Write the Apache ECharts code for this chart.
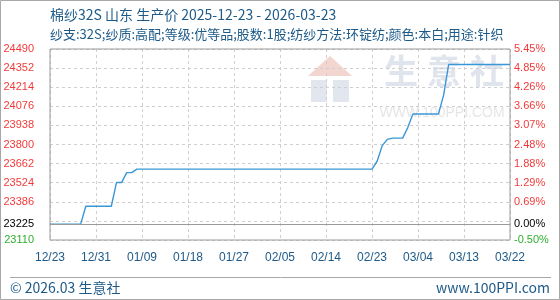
<!DOCTYPE html>
<html>
<head>
<meta charset="utf-8">
<script src="https://cdn.jsdelivr.net/npm/echarts@6/dist/echarts.min.js"></script>
<style>html,body{margin:0;padding:0;background:#fff}#c{width:560px;height:300px}</style>
</head>
<body>
<div id="c"></div>
<script>
const titleText = '棉纱32S 山东 生产价 2025-12-23 - 2026-03-23';
const subText = '纱支:32S;纱质:高配;等级:优等品;股数:1股;纺纱方法:环锭纺;颜色:本白;用途:针织';
const dates = [
 '12/23','12/24','12/25','12/26','12/27','12/28','12/29','12/30','12/31',
 '01/01','01/02','01/03','01/04','01/05','01/06','01/07','01/08','01/09','01/10','01/11','01/12','01/13','01/14','01/15','01/16','01/17','01/18','01/19','01/20','01/21','01/22','01/23','01/24','01/25','01/26','01/27','01/28','01/29','01/30','01/31',
 '02/01','02/02','02/03','02/04','02/05','02/06','02/07','02/08','02/09','02/10','02/11','02/12','02/13','02/14','02/15','02/16','02/17','02/18','02/19','02/20','02/21','02/22','02/23','02/24','02/25','02/26','02/27','02/28',
 '03/01','03/02','03/03','03/04','03/05','03/06','03/07','03/08','03/09','03/10','03/11','03/12','03/13','03/14','03/15','03/16','03/17','03/18','03/19','03/20','03/21','03/22','03/23'
];
const prices = [
 23225,23225,23225,23225,23225,23225,23225,
 23354,23354,23354,23354,23354,23354,
 23525,23525,
 23597,23597,
 23622,23622,23622,23622,23622,23622,23622,23622,23622,23622,
 23622,23622,23622,23622,23622,23622,23622,23622,23622,23622,
 23622,23622,23622,23622,23622,23622,23622,23622,23622,23622,
 23622,23622,23622,23622,23622,23622,23622,23622,23622,23622,
 23622,23622,23622,23622,23622,23622,23622,
 23679,23792,23837,
 23846,23846,23846,
 23922,
 24020,24020,24020,24020,24020,24020,
 24155,
 24378,24378,24378,24378,24378,24378,24378,24378,24378,24378,24378,24378,24378
];
const xTickLabels = ['12/23','12/31','01/09','01/18','01/27','02/05','02/14','02/23','03/04','03/13','03/22'];
const basePrice = 23225;
const yMin = 23110, yMax = 24490, yStep = 138;
const hiddenTick = 23248;

const RED = '#f23a3a', GREEN = '#2fae2f', BLUE = '#1d5a88';
const labelFont = 'Liberation Sans, Arial, sans-serif';

const chart = echarts.init(document.getElementById('c'), null, {renderer: 'canvas'});
const pct = v => ((v - basePrice) / basePrice * 100).toFixed(2) + '%';
const colorFor = v => (Math.round(v) > basePrice ? RED : (Math.round(v) < basePrice ? GREEN : '#000'));

chart.setOption({
  animation: false,
  backgroundColor: '#fff',
  grid: {left: 50, right: 50, top: 49, bottom: 60, show: true, borderColor: '#9a9a9a', borderWidth: 1, backgroundColor: 'transparent', z: 3},
  xAxis: {
    type: 'category', data: dates, boundaryGap: false,
    axisLine: {show: false}, axisTick: {show: false},
    axisLabel: {
      interval: (i) => i % 9 === 0, margin: 12, color: BLUE, fontSize: 12, fontFamily: labelFont,
      formatter: (v, i) => xTickLabels[Math.round(i / 9)] || ''
    },
    splitLine: {show: true, interval: (i) => i % 9 === 0, lineStyle: {color: '#cfcfcf', type: [3, 3], width: 1}}
  },
  yAxis: [{
    type: 'value', min: yMin, max: yMax, interval: yStep, position: 'left',
    axisLine: {show: false}, axisTick: {show: false},
    splitLine: {show: true, lineStyle: {color: '#cfcfcf', type: [3, 3], width: 1}},
    axisLabel: {
      margin: 16, fontSize: 11, fontFamily: labelFont, showMinLabel: true, showMaxLabel: true,
      formatter: v => Math.round(v) === hiddenTick ? '' : String(Math.round(v)),
      color: v => colorFor(v)
    }
  }, {
    type: 'value', min: yMin, max: yMax, interval: yStep, position: 'right',
    axisLine: {show: false}, axisTick: {show: false}, splitLine: {show: false},
    axisLabel: {
      margin: 4, fontSize: 11, fontFamily: labelFont, showMinLabel: true, showMaxLabel: true,
      formatter: v => Math.round(v) === hiddenTick ? '' : pct(v),
      color: v => colorFor(v)
    }
  }],
  series: [{
    type: 'line', data: prices, showSymbol: false, symbol: 'none', z: 4,
    lineStyle: {color: '#3a97d6', width: 1.4},
    markLine: {
      silent: true, symbol: 'none', animation: false,
      lineStyle: {color: '#9a9a9a', type: 'solid', width: 1},
      data: [
        {yAxis: basePrice, label: {show: true, position: 'start', distance: 16, formatter: String(basePrice), color: '#000', fontSize: 11, fontFamily: labelFont}},
        {yAxis: basePrice, label: {show: true, position: 'end', distance: 4, formatter: '0.00%', color: '#000', fontSize: 11, fontFamily: labelFont}}
      ]
    }
  }],
  graphic: [
    {type: 'rect', z: -10, silent: true, shape: {x: 0.5, y: 0.5, width: 559, height: 299}, style: {fill: 'none', stroke: '#a8a8a8', lineWidth: 1}},
    {type: 'line', silent: true, shape: {x1: 10, y1: 277.5, x2: 551, y2: 277.5}, style: {stroke: '#a8a8a8', lineWidth: 1}},
    {type: 'text', silent: true, x: 50, y: 15, style: {text: titleText, fill: BLUE, font: '14px "Noto Sans CJK SC", sans-serif', textAlign: 'left', textVerticalAlign: 'middle', align: 'left', verticalAlign: 'middle'}},
    {type: 'text', silent: true, x: 50, y: 34, style: {text: subText, fill: BLUE, font: '13px "Noto Sans CJK SC", sans-serif', textAlign: 'left', textVerticalAlign: 'middle', align: 'left', verticalAlign: 'middle'}},
    {type: 'text', silent: true, x: 10, y: 288, style: {text: '© 2026.03 生意社', fill: BLUE, font: '14px "Noto Sans CJK SC", sans-serif', textAlign: 'left', textVerticalAlign: 'middle', align: 'left', verticalAlign: 'middle'}},
    {type: 'text', silent: true, x: 550, y: 288, style: {text: 'www.100PPI.com', fill: BLUE, font: '14px "Noto Sans CJK SC", sans-serif', textAlign: 'right', textVerticalAlign: 'middle', align: 'right', verticalAlign: 'middle'}},
    // watermark
    {type: 'polygon', z: -5, silent: true, shape: {points: [[330, 56], [352, 76], [308, 76]]}, style: {fill: '#f4d6d0'}},
    {type: 'rect', z: -5, silent: true, shape: {x: 311, y: 80, width: 16, height: 22}, style: {fill: '#e2e6ee'}},
    {type: 'rect', z: -5, silent: true, shape: {x: 333, y: 80, width: 16, height: 22}, style: {fill: '#e2e6ee'}},
    {type: 'text', z: -5, silent: true, x: 401, y: 71, style: {text: '生', fill: '#dfe4ed', font: 'bold 34px "Noto Sans CJK SC", sans-serif', textAlign: 'center', textVerticalAlign: 'middle', align: 'center', verticalAlign: 'middle'}},
    {type: 'text', z: -5, silent: true, x: 444, y: 71, style: {text: '意', fill: '#dfe4ed', font: 'bold 34px "Noto Sans CJK SC", sans-serif', textAlign: 'center', textVerticalAlign: 'middle', align: 'center', verticalAlign: 'middle'}},
    {type: 'text', z: -5, silent: true, x: 487, y: 71, style: {text: '社', fill: '#dfe4ed', font: 'bold 34px "Noto Sans CJK SC", sans-serif', textAlign: 'center', textVerticalAlign: 'middle', align: 'center', verticalAlign: 'middle'}},
    {type: 'text', z: -5, silent: true, x: 442, y: 113, style: {text: 'WWW.100PPI.COM', fill: '#e6e6e6', font: '14px "Liberation Sans", sans-serif', textAlign: 'center', textVerticalAlign: 'middle', align: 'center', verticalAlign: 'middle'}}
  ]
});
</script>
</body>
</html>
